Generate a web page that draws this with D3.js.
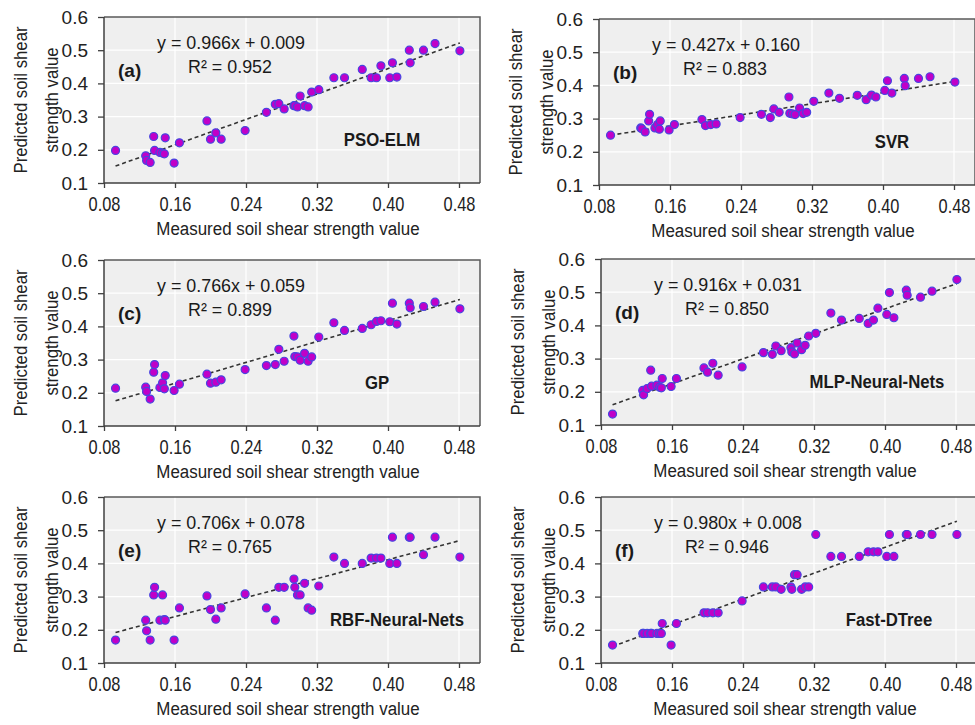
<!DOCTYPE html>
<html lang="en">
<head>
<meta charset="UTF-8">
<title>Measured vs predicted soil shear strength</title>
<script src="https://cdn.jsdelivr.net/npm/d3@7"></script>
<style>
  body { margin: 0; background: #fff; }
  svg { display: block; font-family: "Liberation Sans", Arial, sans-serif; }
</style>
</head>
<body>
<svg id="chart"></svg>
<script>
const width = 975;
const height = 725;

// measured values (shared by every model)
const measured = [0.093, 0.127, 0.128, 0.132, 0.136, 0.137, 0.143, 0.146, 0.148, 0.149,
  0.159, 0.165, 0.196, 0.200, 0.206, 0.212, 0.239, 0.263, 0.273, 0.277,
  0.283, 0.294, 0.295, 0.298, 0.301, 0.306, 0.310, 0.314, 0.322, 0.339,
  0.351, 0.371, 0.381, 0.387, 0.392, 0.402, 0.405, 0.410, 0.424, 0.425,
  0.440, 0.453, 0.481];

const predPsoElm = [0.198, 0.182, 0.168, 0.162, 0.240, 0.198, 0.192, 0.190, 0.188, 0.236,
  0.160, 0.221, 0.287, 0.232, 0.251, 0.232, 0.258, 0.313, 0.337, 0.339,
  0.323, 0.333, 0.333, 0.329, 0.362, 0.333, 0.329, 0.374, 0.381, 0.417,
  0.417, 0.442, 0.417, 0.417, 0.453, 0.417, 0.462, 0.419, 0.500, 0.462,
  0.500, 0.520, 0.498];

const predSvr = [0.250, 0.272, 0.270, 0.260, 0.293, 0.313, 0.272, 0.282, 0.268, 0.293,
  0.266, 0.282, 0.297, 0.279, 0.282, 0.284, 0.303, 0.313, 0.303, 0.329,
  0.319, 0.365, 0.316, 0.314, 0.312, 0.332, 0.315, 0.319, 0.352, 0.377,
  0.361, 0.370, 0.357, 0.371, 0.365, 0.385, 0.414, 0.377, 0.421, 0.399,
  0.421, 0.426, 0.410];

const predGp = [0.214, 0.217, 0.204, 0.181, 0.262, 0.285, 0.216, 0.230, 0.212, 0.252,
  0.207, 0.226, 0.256, 0.229, 0.232, 0.239, 0.270, 0.282, 0.285, 0.331,
  0.295, 0.371, 0.309, 0.308, 0.298, 0.319, 0.295, 0.308, 0.368, 0.411,
  0.388, 0.394, 0.405, 0.415, 0.417, 0.414, 0.470, 0.407, 0.470, 0.456,
  0.460, 0.473, 0.453];

const predMlp = [0.133, 0.204, 0.191, 0.210, 0.265, 0.217, 0.220, 0.214, 0.212, 0.240,
  0.216, 0.240, 0.272, 0.259, 0.286, 0.250, 0.275, 0.318, 0.313, 0.338,
  0.324, 0.333, 0.320, 0.314, 0.347, 0.327, 0.340, 0.368, 0.376, 0.437,
  0.416, 0.421, 0.406, 0.416, 0.452, 0.433, 0.499, 0.423, 0.506, 0.491,
  0.485, 0.503, 0.538];

const predRbf = [0.169, 0.229, 0.197, 0.169, 0.305, 0.328, 0.229, 0.305, 0.231, 0.229,
  0.169, 0.266, 0.302, 0.261, 0.232, 0.266, 0.308, 0.266, 0.229, 0.328,
  0.328, 0.353, 0.328, 0.305, 0.305, 0.340, 0.266, 0.259, 0.332, 0.419,
  0.400, 0.400, 0.416, 0.416, 0.416, 0.400, 0.479, 0.400, 0.479, 0.479,
  0.426, 0.479, 0.419];

const predDtree = [0.154, 0.189, 0.189, 0.189, 0.189, 0.189, 0.189, 0.189, 0.189, 0.219,
  0.154, 0.219, 0.251, 0.251, 0.251, 0.251, 0.287, 0.329, 0.329, 0.329,
  0.322, 0.329, 0.322, 0.366, 0.366, 0.322, 0.329, 0.329, 0.487, 0.421,
  0.421, 0.421, 0.435, 0.435, 0.435, 0.421, 0.487, 0.421, 0.487, 0.487,
  0.487, 0.487, 0.487];

const panelTags = ["(a)", "(b)", "(c)", "(d)", "(e)", "(f)"];
const modelNames = ["PSO-ELM", "SVR", "GP", "MLP-Neural-Nets", "RBF-Neural-Nets", "Fast-DTree"];
const equations = ["y = 0.966x + 0.009", "y = 0.427x + 0.160", "y = 0.766x + 0.059",
  "y = 0.916x + 0.031", "y = 0.706x + 0.078", "y = 0.980x + 0.008"];
const rSquared = ["0.952", "0.883", "0.899", "0.850", "0.765", "0.946"];
// trend line as drawn: predicted value at the smallest and largest measured value
const trendLow = [0.151, 0.250, 0.176, 0.161, 0.192, 0.150];
const trendHigh = [0.522, 0.412, 0.481, 0.526, 0.469, 0.527];
const predicted = [predPsoElm, predSvr, predGp, predMlp, predRbf, predDtree];

const xTicks = [0.08, 0.16, 0.24, 0.32, 0.40, 0.48];
const yTicks = [0.1, 0.2, 0.3, 0.4, 0.5, 0.6];

// layout
const panelLeft = [104, 599, 104, 601, 104, 601];
const panelTop = [17, 19, 260, 259, 497, 497];
const labelShift = [278, 293, 273, 276, 293, 288];
const plotH = 166;
const tickSpan = 355;   // pixels from 0.08 to 0.48
const plotW = 376;

const svg = d3.select("#chart")
  .attr("width", width)
  .attr("height", height);

// squeeze a text horizontally so it looks like the narrow font of the original
function narrow(sel, k) {
  sel.each(function () {
    const len = this.getComputedTextLength();
    d3.select(this).attr("textLength", len * k).attr("lengthAdjust", "spacingAndGlyphs");
  });
}

predicted.forEach((pred, i) => {
  const left = panelLeft[i];
  const top = panelTop[i];
  const x = d3.scaleLinear().domain([0.08, 0.48]).range([left, left + tickSpan]);
  const y = d3.scaleLinear().domain([0.1, 0.6]).range([top + plotH, top]);

  const g = svg.append("g").attr("class", "panel");

  g.append("rect")
    .attr("x", left).attr("y", top)
    .attr("width", plotW).attr("height", plotH)
    .attr("fill", "#efefef");

  // white grid
  g.append("g").selectAll("line").data(xTicks.slice(1)).join("line")
    .attr("x1", d => x(d)).attr("x2", d => x(d))
    .attr("y1", top).attr("y2", top + plotH)
    .attr("stroke", "#fff").attr("stroke-width", 1.2);
  g.append("g").selectAll("line").data(yTicks.slice(1, -1)).join("line")
    .attr("x1", left).attr("x2", left + plotW)
    .attr("y1", d => y(d)).attr("y2", d => y(d))
    .attr("stroke", "#fff").attr("stroke-width", 1.2);

  // top and right border
  g.append("path")
    .attr("d", `M${left},${top}H${left + plotW}V${top + plotH}`)
    .attr("fill", "none").attr("stroke", "#5a5a5a").attr("stroke-width", 1.5);

  const xAxis = g.append("g")
    .attr("transform", `translate(0,${top + plotH})`)
    .call(d3.axisBottom(x).tickValues(xTicks).tickFormat(d3.format(".2f")).tickSize(5).tickPadding(9));
  xAxis.select(".domain").attr("d", `M${left},0H${left + plotW}`);

  const yAxis = g.append("g")
    .attr("transform", `translate(${left},0)`)
    .call(d3.axisLeft(y).tickValues(yTicks).tickFormat(d3.format(".1f")).tickSize(6).tickPadding(10));
  yAxis.select(".domain").attr("d", `M0,${top}V${top + plotH}`);

  [xAxis, yAxis].forEach(a => {
    a.select(".domain").attr("stroke", "#404040").attr("stroke-width", 1.5);
    a.selectAll(".tick line").attr("stroke", "#404040").attr("stroke-width", 1.3);
    a.selectAll(".tick text").attr("fill", "#222");
  });
  yAxis.selectAll(".tick text").style("font-size", "19px");
  // x tick labels: tall and narrow, squeezed around their own centre
  xAxis.selectAll(".tick text").style("font-size", "20px").attr("transform", "scale(0.82,1)");

  // trend line
  g.append("line")
    .attr("x1", x(d3.min(measured))).attr("y1", y(trendLow[i]))
    .attr("x2", x(d3.max(measured))).attr("y2", y(trendHigh[i]))
    .attr("stroke", "#333").attr("stroke-width", 1.6)
    .attr("stroke-dasharray", "4,3");

  // points
  g.append("g").selectAll("circle").data(measured).join("circle")
    .attr("cx", d => x(d))
    .attr("cy", (d, j) => y(pred[j]))
    .attr("r", 4)
    .attr("fill", "#c000c8")
    .attr("stroke", "#4646e0")
    .attr("stroke-width", 1.2);

  // texts
  g.append("text")
    .attr("x", left + 127).attr("y", top + 32)
    .attr("text-anchor", "middle")
    .style("font-size", "19px").attr("fill", "#1a1a1a")
    .text(equations[i])
    .call(narrow, 0.94);
  g.append("text")
    .attr("x", left + 126).attr("y", top + 56)
    .attr("text-anchor", "middle")
    .style("font-size", "19px").attr("fill", "#1a1a1a")
    .text("R² = " + rSquared[i])
    .call(narrow, 0.94);
  g.append("text")
    .attr("x", left + 14).attr("y", top + 60)
    .style("font-size", "19px").style("font-weight", "bold").attr("fill", "#1a1a1a")
    .text(panelTags[i]);
  g.append("text")
    .attr("x", left + labelShift[i]).attr("y", top + 129)
    .attr("text-anchor", "middle")
    .style("font-size", "18px").style("font-weight", "bold").attr("fill", "#1a1a1a")
    .text(modelNames[i])
    .call(narrow, 0.93);

  // axis titles
  g.append("text")
    .attr("x", left + plotW / 2 - 4).attr("y", top + plotH + 52)
    .attr("text-anchor", "middle")
    .style("font-size", "18px").attr("fill", "#222")
    .text("Measured soil shear strength value")
    .call(narrow, 0.94);
  const cy = top + plotH / 2;
  [["Predicted soil shear", -77], ["strength value", -46]].forEach(([t, dx]) => {
    g.append("text")
      .attr("transform", `translate(${left + dx},${cy}) rotate(-90)`)
      .attr("text-anchor", "middle")
      .style("font-size", "18px").attr("fill", "#222")
      .text(t)
      .call(narrow, 0.93);
  });
});
</script>
</body>
</html>
